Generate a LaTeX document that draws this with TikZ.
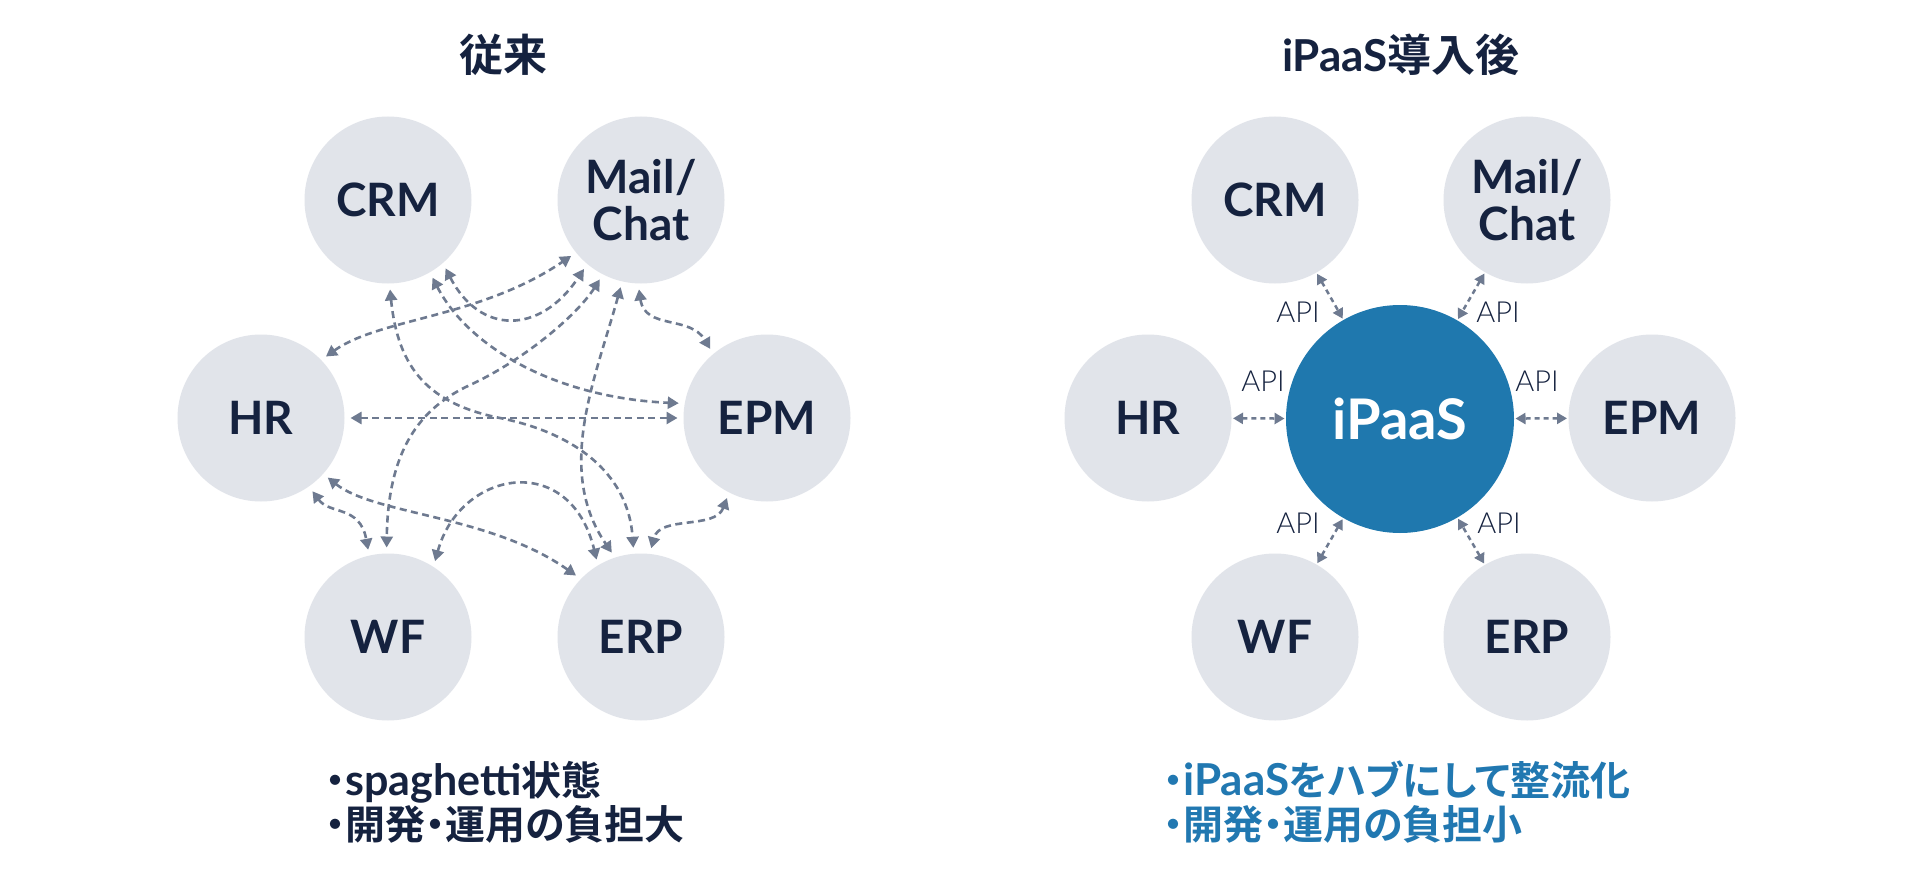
\documentclass[tikz,border=0pt]{standalone}
\usepackage{fontspec}
\setmainfont{Lato}
\newfontfamily\latolight{Lato Light}
\newfontfamily\jp{Noto Sans CJK JP}[BoldFont={* Bold},RawFeature=+palt]
\usetikzlibrary{arrows.meta}
\definecolor{navy}{HTML}{15223F}
\definecolor{bub}{HTML}{E1E4EA}
\definecolor{conn}{HTML}{6E7A90}
\definecolor{hub}{HTML}{1F78AE}
\definecolor{hubtext}{HTML}{2178B1}
\begin{document}
\begin{tikzpicture}[x=1pt,y=-1pt,
  sys/.style={circle,fill=bub,minimum size=167pt,inner sep=0pt,outer sep=0pt,text=navy,
    font=\bfseries\fontsize{46}{47}\selectfont,align=center},
  hubnode/.style={circle,fill=hub,minimum size=228pt,inner sep=0pt,outer sep=0pt,text=white,
    font=\bfseries\fontsize{56}{60}\selectfont},
  tipA/.tip={Triangle[length=11pt,width=12pt]},
  tipB/.tip={Triangle[length=10pt,width=11pt]},
  spag/.style={draw=conn,line width=2.6pt,dash pattern=on 7pt off 4.5pt,tipA-tipA,
    shorten <=6pt,shorten >=6pt},
  apiline/.style={draw=conn,line width=2.5pt,dash pattern=on 5pt off 4pt,tipB-tipB,
    shorten <=1.5pt,shorten >=1.5pt},
  api/.style={text=navy,font=\latolight\fontsize{29}{30}\selectfont,inner sep=0pt},
  title/.style={text=navy,anchor=base,inner sep=0pt,font=\bfseries\fontsize{44}{50}\selectfont},
  note/.style={anchor=base west,inner sep=0pt,font=\bfseries\fontsize{40}{44}\selectfont}
]
\fill[white] (0,0) rectangle (1920,880);
\useasboundingbox (0,0) rectangle (1920,880);

% ---------- titles ----------
\node[title] (t1) at (503,72) {{\jp 従来}};
\node[title] (t2) at (1401,72) {iPaaS{\jp 導入後}};

% ---------- left diagram ----------
\node[sys] (crmL)  at (388,200) {CRM};
\node[sys] (mailL) at (641,200) {Mail/\\Chat};
\node[sys] (hrL)   at (261,418) {HR};
\node[sys] (epmL)  at (767,418) {EPM};
\node[sys] (wfL)   at (388,637) {WF};
\node[sys] (erpL)  at (641,637) {ERP};

\draw[spag] (hrL.0) -- (epmL.180);
\draw[spag] (hrL.44) .. controls (380,318) and (480,318) .. (mailL.-141);
\draw[spag] (crmL.-49) .. controls (480,335) and (540,335) .. (mailL.-130);
\draw[spag] (crmL.-60) .. controls (470,350) and (560,398) .. (epmL.170);
\draw[spag] (crmL.-89) .. controls (398,370) and (430,404) .. (500,418)
                      .. controls (570,432) and (628,470) .. (erpL.95);
\draw[spag] (mailL.-117) .. controls (575,318) and (520,362) .. (470,385)
                        .. controls (420,408) and (388,450) .. (wfL.91);
\draw[spag] (mailL.-103) .. controls (595,380) and (555,470) .. (erpL.108);
\draw[spag] (mailL.-92) .. controls (645,330) and (690,315) .. (epmL.130);
\draw[spag] (hrL.-42) .. controls (375,515) and (490,515) .. (erpL.136);
\draw[spag] (hrL.-55) .. controls (330,515) and (360,505) .. (wfL.103);
\draw[spag] (wfL.57) .. controls (460,470) and (570,450) .. (erpL.121);
\draw[spag] (epmL.-117) .. controls (715,530) and (660,515) .. (erpL.84);

% ---------- right diagram ----------
\node[sys] (crmR)  at (1275,200) {CRM};
\node[sys] (mailR) at (1527,200) {Mail/\\Chat};
\node[sys] (hrR)   at (1148,418) {HR};
\node[sys] (epmR)  at (1652,418) {EPM};
\node[sys] (wfR)   at (1275,637) {WF};
\node[sys] (erpR)  at (1527,637) {ERP};
\node[hubnode] (ipaas) at (1400,419) {iPaaS};

\draw[apiline] (crmR) -- (ipaas);
\draw[apiline] (mailR) -- (ipaas);
\draw[apiline] (hrR) -- (ipaas);
\draw[apiline] (epmR) -- (ipaas);
\draw[apiline] (wfR) -- (ipaas);
\draw[apiline] (erpR) -- (ipaas);

\node[api] (a1) at (1298,312) {API};
\node[api] (a2) at (1498,312) {API};
\node[api] (a3) at (1263,381) {API};
\node[api] (a4) at (1537,381) {API};
\node[api] (a5) at (1298,523) {API};
\node[api] (a6) at (1499,523) {API};

% ---------- notes ----------
\node[note,text=navy] (n1) at (325,795) {{\jp ・}{\fontsize{43}{44}\selectfont spaghetti}{\jp 状態}};
\node[note,text=navy] (n2) at (325,839) {{\jp ・開発・運用の負担大}};
\node[note,text=hubtext] (n3) at (1163,795) {{\jp ・}{\fontsize{44}{44}\selectfont iPaaS}{\jp をハブにして整流化}};
\node[note,text=hubtext] (n4) at (1163,839) {{\jp ・開発・運用の負担小}};
\end{tikzpicture}
\end{document}
